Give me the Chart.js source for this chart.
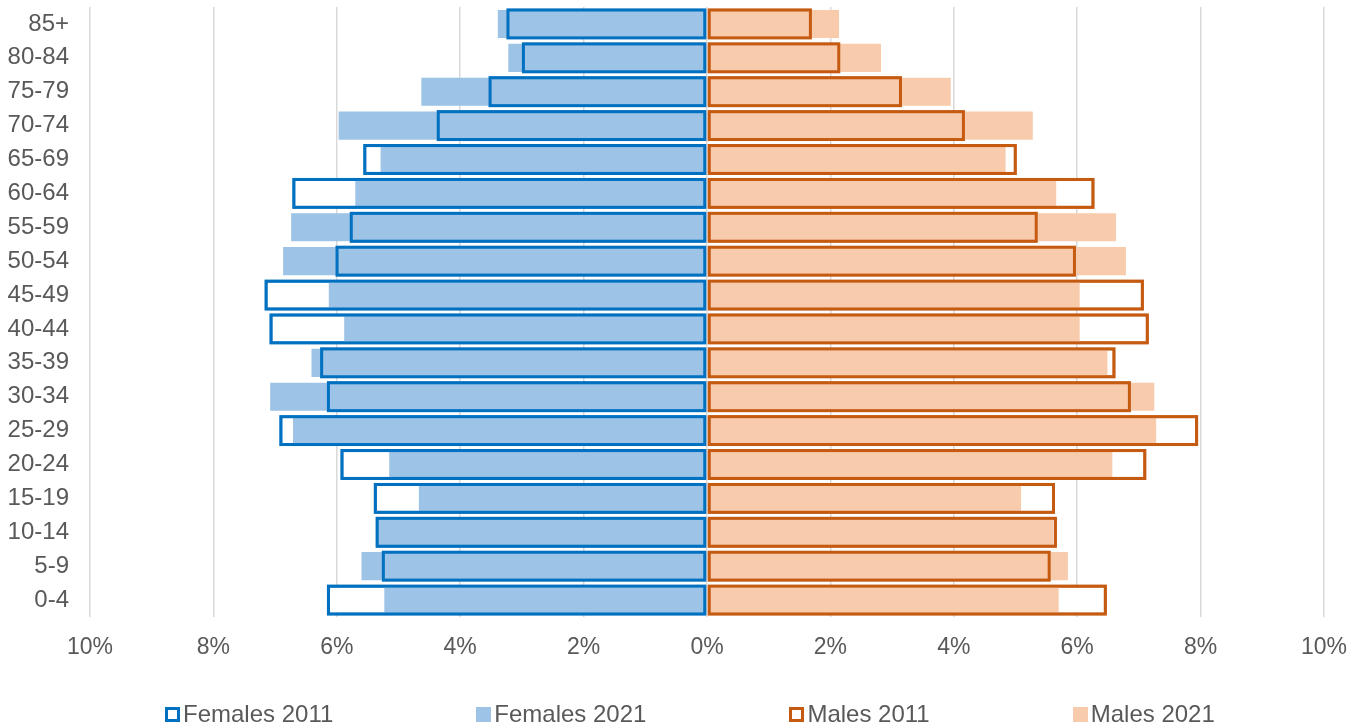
<!DOCTYPE html>
<html>
<head>
<meta charset="utf-8">
<title>Pirámide de población 2011 - 2021</title>
<script src="https://cdn.jsdelivr.net/npm/chart.js@4.4.0/dist/chart.umd.min.js"></script>
<style>
  body { margin: 0; background: #fff; font-family: "Liberation Sans", Arial, sans-serif; }
  #contenedor { position: relative; width: 1367px; height: 727px; overflow: hidden; }
  #grafica1 { position: absolute; left: 0; top: 0; }
  #leyenda { position: absolute; left: 165px; top: 700px; display: flex; align-items: center; }
  .item { display: flex; align-items: center; margin-right: 143px; font-size: 24px; line-height: 28px; color: #595959; white-space: nowrap; }
  .caja { width: 15px; height: 15px; box-sizing: border-box; margin-right: 3px; }
</style>
</head>
<body>
<div id="contenedor">
  <canvas id="grafica1" width="1367" height="727"></canvas>
  <div id="leyenda"></div>
</div>
<script>
// Grupos de edad (de menor a mayor, el eje se invierte)
var edades = ['0-4', '5-9', '10-14', '15-19', '20-24', '25-29', '30-34', '35-39', '40-44',
              '45-49', '50-54', '55-59', '60-64', '65-69', '70-74', '75-79', '80-84', '85+'];

// Porcentaje de población por grupo de edad
var mujeres2011 = [6.16, 5.27, 5.37, 5.40, 5.94, 6.93, 6.16, 6.27, 7.09, 7.17, 6.02, 5.79, 6.72, 5.57, 4.38, 3.54, 3.00, 3.25];
var mujeres2021 = [5.23, 5.60, 5.33, 4.67, 5.15, 6.71, 7.08, 6.41, 5.88, 6.13, 6.87, 6.74, 5.70, 5.29, 5.97, 4.63, 3.22, 3.39];
var hombres2011 = [6.48, 5.57, 5.67, 5.64, 7.12, 7.96, 6.87, 6.62, 7.16, 7.08, 5.98, 5.36, 6.28, 5.02, 4.18, 3.16, 2.16, 1.70];
var hombres2021 = [5.70, 5.85, 5.61, 5.09, 6.57, 7.28, 7.25, 6.49, 6.04, 6.04, 6.79, 6.63, 5.66, 4.84, 5.28, 3.95, 2.82, 2.14];

// Marcas del eje x
var marcasX = [-10, -8, -6, -4, -2, 0, 2, 4, 6, 8, 10];

var colorTexto = '#595959';

// Las mujeres van a la izquierda (valores negativos)
function negativo(lista) {
    return lista.map(function (v) { return -v; });
}

// Vuelve a dibujar los contornos de 2011 encima de las barras rellenas de 2021
var bordesEncima = {
    id: 'bordesEncima',
    afterDatasetsDraw: function (chart) {
        var ctx = chart.ctx;
        chart.data.datasets.forEach(function (ds, i) {
            if (!ds.contorno) return;
            var meta = chart.getDatasetMeta(i);
            var m = ds.borderWidth / 2;
            ctx.save();
            ctx.strokeStyle = ds.borderColor;
            ctx.lineWidth = ds.borderWidth;
            meta.data.forEach(function (bar) {
                var p = bar.getProps(['x', 'y', 'base', 'height'], true);
                var izq = Math.min(p.x, p.base);
                var der = Math.max(p.x, p.base);
                ctx.strokeRect(izq + m, p.y - p.height / 2 + m, der - izq - 2 * m, p.height - 2 * m);
            });
            ctx.restore();
        });
    }
};

var ctx1 = document.getElementById('grafica1');
var grafica1 = new Chart(ctx1.getContext('2d'), {
    type: 'bar',
    data: {
        labels: edades,
        datasets: [{
            label: 'Females 2011',
            data: negativo(mujeres2011),
            backgroundColor: '#ffffff',
            borderColor: '#0070C0',
            borderWidth: 3,
            borderSkipped: false,
            barPercentage: 0.91,
            contorno: true,
            order: 1
        }, {
            label: 'Females 2021',
            data: negativo(mujeres2021),
            backgroundColor: '#9DC3E6',
            borderWidth: 0,
            barPercentage: 0.83,
            order: 0
        }, {
            label: 'Males 2011',
            data: hombres2011,
            backgroundColor: '#ffffff',
            borderColor: '#C55A11',
            borderWidth: 3,
            borderSkipped: false,
            barPercentage: 0.91,
            contorno: true,
            order: 1
        }, {
            label: 'Males 2021',
            data: hombres2021,
            backgroundColor: '#F8CBAD',
            borderWidth: 0,
            barPercentage: 0.83,
            order: 0
        }]
    },
    options: {
        indexAxis: 'y',
        responsive: false,
        animation: false,
        devicePixelRatio: 1,
        grouped: false,
        categoryPercentage: 1,
        layout: {
            padding: { top: 7, right: 43, bottom: 65, left: 0 }
        },
        scales: {
            x: {
                min: -10,
                max: 10,
                afterBuildTicks: function (scale) {
                    scale.ticks = marcasX.map(function (v) { return { value: v }; });
                },
                afterFit: function (scale) { scale.height = 45; },
                grid: { color: '#D9D9D9', lineWidth: 1.5, drawTicks: false },
                border: { display: false },
                ticks: {
                    padding: 17,
                    color: colorTexto,
                    font: { family: 'Liberation Sans', size: 23 },
                    callback: function (v) { return Math.abs(v) + '%'; }
                }
            },
            y: {
                reverse: true,
                afterFit: function (scale) {
                    scale.width = 90;
                    // sin margen extra arriba y abajo por las etiquetas
                    scale.paddingTop = 0;
                    scale.paddingBottom = 0;
                },
                grid: { display: false, drawTicks: false },
                border: { display: false },
                ticks: {
                    padding: 21,
                    color: colorTexto,
                    font: { family: 'Liberation Sans', size: 24 }
                }
            }
        },
        plugins: {
            legend: { display: false },
            tooltip: { enabled: false }
        }
    },
    plugins: [bordesEncima]
});

// Leyenda en HTML a partir de las series
var leyenda = document.getElementById('leyenda');
grafica1.data.datasets.forEach(function (ds) {
    var item = document.createElement('div');
    item.className = 'item';
    var caja = document.createElement('span');
    caja.className = 'caja';
    caja.style.background = ds.backgroundColor;
    if (ds.contorno) {
        caja.style.border = '3px solid ' + ds.borderColor;
    }
    var texto = document.createElement('span');
    texto.textContent = ds.label;
    item.appendChild(caja);
    item.appendChild(texto);
    leyenda.appendChild(item);
});
</script>
</body>
</html>
